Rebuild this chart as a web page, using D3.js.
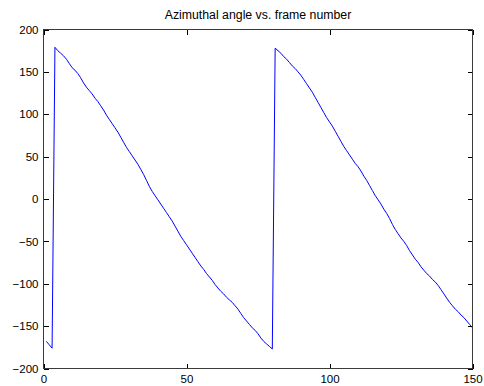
<!DOCTYPE html>
<html>
<head>
<meta charset="utf-8">
<script src="https://cdn.jsdelivr.net/npm/d3@7"></script>
<style>
  html, body { margin: 0; padding: 0; background: #fff; }
  svg { display: block; }
  text { font-family: "Liberation Sans", Arial, Helvetica, sans-serif; fill: #000; }
</style>
</head>
<body>
<svg id="chart" width="484" height="386"></svg>
<script>
// Azimuthal angle (degrees) per frame, frames 1..150
const frames = d3.range(1, 151);
const angles = [
  -168, -172, -176,
  179, 175, 172, 169, 165, 160, 155, 152, 148, 143, 137, 132, 128, 124, 119, 115, 110,
  105, 99, 94, 89, 84, 79, 73, 67, 61, 56, 51, 46, 41, 35, 29, 22, 15, 9, 4, -1,
  -6, -11, -16, -21, -26, -32, -38, -44, -49, -54, -59, -64, -69, -74, -79, -83, -88, -92, -96, -101,
  -105, -109, -112, -116, -119, -122, -126, -130, -135, -140, -144, -148, -152, -155, -159, -164, -168, -171, -174, -177,
  178, 175, 172, 168, 165, 161, 157, 154, 150, 146, 141, 136, 131, 126, 120, 114, 108, 102, 96, 91,
  86, 80, 74, 68, 62, 57, 52, 47, 42, 38, 33, 27, 22, 16, 10, 4, -1, -6, -12, -17,
  -23, -30, -36, -41, -46, -50, -55, -61, -66, -71, -75, -80, -84, -88, -91, -95, -98, -102, -107, -112,
  -117, -122, -126, -130, -133, -137, -140, -144, -148, -152
];
const xTicks = [0, 50, 100, 150];
const yTicks = [-200, -150, -100, -50, 0, 50, 100, 150, 200];
const title = "Azimuthal angle vs. frame number";

const svg = d3.select("#chart");
const plotLeft = 43.5, plotRight = 472.5, plotTop = 29.5, plotBottom = 368.5;

const x = d3.scaleLinear().domain([0, 150]).range([plotLeft, plotRight]);
const y = d3.scaleLinear().domain([-200, 200]).range([plotBottom, plotTop]);

// curve
const line = d3.line().x((d, i) => x(frames[i])).y(d => y(d));
svg.append("path")
  .datum(angles)
  .attr("d", line)
  .attr("fill", "none")
  .attr("stroke", "#0000ff")
  .attr("stroke-width", 1);

// axes with inward ticks on all four sides
const tickLen = 5;
function styleAxis(g) {
  g.selectAll(".domain").remove();
  g.selectAll(".tick line").attr("stroke", "#000").attr("shape-rendering", "crispEdges");
  g.selectAll("text").attr("font-size", "11.5px").attr("fill", "#000")
    .attr("font-family", "'Liberation Sans', Arial, sans-serif");
}
svg.append("g").attr("transform", `translate(0,${plotBottom})`)
  .call(d3.axisBottom(x).tickValues(xTicks).tickSize(-tickLen).tickPadding(6).tickFormat(d3.format("d")))
  .call(styleAxis);
svg.append("g").attr("transform", `translate(0,${plotTop})`)
  .call(d3.axisTop(x).tickValues(xTicks).tickSize(-tickLen).tickFormat(""))
  .call(styleAxis);
svg.append("g").attr("transform", `translate(${plotLeft},0)`)
  .call(d3.axisLeft(y).tickValues(yTicks).tickSize(-tickLen).tickPadding(5).tickFormat(d3.format("d")))
  .call(styleAxis);
svg.append("g").attr("transform", `translate(${plotRight},0)`)
  .call(d3.axisRight(y).tickValues(yTicks).tickSize(-tickLen).tickFormat(""))
  .call(styleAxis);

// box
svg.append("rect")
  .attr("x", plotLeft).attr("y", plotTop)
  .attr("width", plotRight - plotLeft).attr("height", plotBottom - plotTop)
  .attr("fill", "none").attr("stroke", "#3a3a3a").attr("stroke-width", 1)
  .attr("shape-rendering", "crispEdges");

// title
svg.append("text")
  .attr("x", (plotLeft + plotRight) / 2).attr("y", 19)
  .attr("text-anchor", "middle")
  .attr("font-size", "12.3px")
  .text(title);
</script>
</body>
</html>
